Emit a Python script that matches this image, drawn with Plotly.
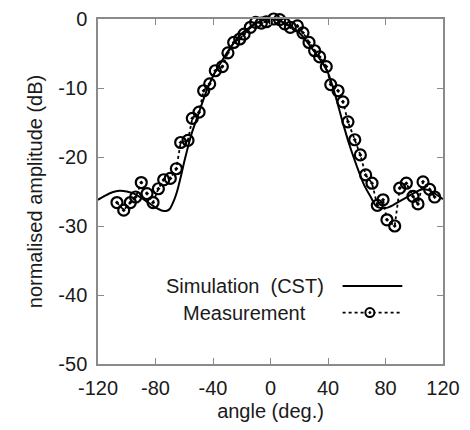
import plotly.graph_objects as go

# Simulation (CST) - smooth curve samples
sim_angle = [-120, -115, -110, -105, -100, -95, -90, -85, -80, -75, -72, -70, -67, -65, -62, -60,
             -55, -50, -45, -40, -35, -30, -25, -20, -15, -10, -5, 0, 5, 10, 15, 20, 25, 30, 35,
             40, 45, 50, 55, 60, 65, 70, 73, 75, 80, 85, 90, 95, 100, 105, 110, 115, 120]
sim_db = [-26.2, -25.6, -25.1, -24.9, -25.0, -25.3, -25.9, -26.6, -27.3, -27.8, -27.8, -27.5, -26.2,
          -25.0, -22.5, -20.7, -16.7, -13.7, -10.7, -8.3, -6.5, -4.8, -3.3, -2.1, -1.3, -0.6, -0.15,
          0.0, -0.15, -0.6, -1.2, -2.0, -3.2, -4.6, -6.0, -7.8, -11.0, -14.8, -18.3, -21.3, -24.0,
          -25.9, -27.0, -27.3, -27.4, -27.0, -26.4, -25.8, -25.2, -24.7, -24.8, -25.4, -26.1]

# Measurement points
meas_angle = [-106.8, -102.1, -97.5, -93.8, -89.9, -85.9, -81.7, -78.0, -74.3, -69.7, -65.5, -62.5,
              -57.4, -54.4, -49.7, -46.5, -42.3, -38.4, -33.5, -29.6, -25.6, -21.4, -18.4, -14.0,
              -10.3, -6.4, -2.9, 2.2, 6.4, 9.9, 13.8, 18.7, 22.6, 26.8, 30.7, 34.2, 38.8, 41.9,
              47.0, 50.4, 53.9, 58.6, 62.5, 66.2, 70.6, 74.3, 78.3, 81.0, 86.4, 89.9, 94.5, 99.1,
              102.6, 106.1, 110.7, 114.2]
meas_db = [-26.6, -27.7, -26.6, -25.8, -23.7, -25.3, -26.6, -24.6, -23.3, -23.1, -21.7, -17.9,
           -17.6, -14.4, -13.5, -10.4, -9.4, -7.5, -6.9, -4.9, -3.4, -2.9, -2.2, -1.2,
           -0.5, -0.6, -0.4, 0.0, -0.1, -0.7, -1.2, -1.0, -2.0, -3.4, -4.6, -5.5, -6.9, -9.5,
           -10.4, -12.0, -14.9, -17.5, -19.7, -22.6, -23.8, -27.0, -26.2, -29.1, -30.0, -24.5,
           -23.8, -25.7, -26.8, -23.6, -24.7, -25.8]

x_ticks = [-120, -80, -40, 0, 40, 80, 120]
y_ticks = [0, -10, -20, -30, -40, -50]
legend_labels = ["Simulation\u00a0 (CST)", "Measurement"]

FONT = "Liberation Sans, Arial, Helvetica, sans-serif"
AX = "#8a8a8a"

fig = go.Figure()
fig.add_trace(go.Scatter(x=sim_angle, y=sim_db, mode="lines",
                         line=dict(color="black", width=2, shape="spline", smoothing=0.8),
                         name=legend_labels[0], showlegend=False))
fig.add_trace(go.Scatter(x=meas_angle, y=meas_db, mode="lines+markers", cliponaxis=False,
                         line=dict(color="black", width=1.8, dash="dot"),
                         marker=dict(symbol="circle-open-dot", size=11, color="black",
                                     line=dict(width=2.2, color="black")),
                         name=legend_labels[1], showlegend=False))

# custom legend (text left of samples)
lx0, lx1, lxm = 0.709, 0.882, 0.788
ly = [0.226, 0.149]
for lab, yy in zip(legend_labels, ly):
    fig.add_annotation(x=0.426, y=yy, xref="paper", yref="paper", text=lab, showarrow=False,
                       xanchor="center", yanchor="middle",
                       font=dict(family=FONT, size=20, color="#1a1a1a"))
fig.add_shape(type="line", xref="paper", yref="paper", x0=lx0, x1=lx1, y0=ly[0], y1=ly[0],
              line=dict(color="black", width=2))
fig.add_shape(type="line", xref="paper", yref="paper", x0=lx0, x1=lx1, y0=ly[1], y1=ly[1],
              line=dict(color="black", width=1.8, dash="dot"))
fig.add_shape(type="circle", xref="paper", yref="paper", xsizemode="pixel", ysizemode="pixel",
              xanchor=lxm, yanchor=ly[1], x0=-4.5, x1=4.5, y0=-4.5, y1=4.5,
              line=dict(color="black", width=2), fillcolor="white")
fig.add_shape(type="circle", xref="paper", yref="paper", xsizemode="pixel", ysizemode="pixel",
              xanchor=lxm, yanchor=ly[1], x0=-1, x1=1, y0=-1, y1=1,
              line=dict(color="black", width=1), fillcolor="black")

axis_common = dict(showgrid=False, zeroline=False, showline=True, linecolor=AX, linewidth=1.5,
                   mirror="ticks", ticks="inside", ticklen=6, tickwidth=1.2, tickcolor=AX,
                   automargin=False,
                   tickfont=dict(family=FONT, size=20, color="#1a1a1a"))
fig.update_xaxes(range=[-120, 120], tickvals=x_ticks, ticktext=[str(v) for v in x_ticks],
                 title=dict(text="angle (deg.)", font=dict(family=FONT, size=20, color="#1a1a1a"),
                            standoff=6),
                 ticklabelstandoff=5, **axis_common)
fig.update_yaxes(range=[-50, 0], tickvals=y_ticks, ticktext=[str(v) for v in y_ticks],
                 title=dict(text="normalised amplitude (dB)",
                            font=dict(family=FONT, size=20, color="#1a1a1a"), standoff=10),
                 ticklabelstandoff=5, **axis_common)
fig.update_layout(width=470, height=430, margin=dict(l=98, r=27, t=19, b=66),
                  paper_bgcolor="white", plot_bgcolor="white", showlegend=False)
fig.write_html("out.html", config={"displayModeBar": False})

# remove default page margin so the figure sits at the window origin
with open("out.html", encoding="utf-8") as f:
    html = f.read()
html = html.replace("<body>", '<body style="margin:0;padding:0;overflow:hidden">', 1)
with open("out.html", "w", encoding="utf-8") as f:
    f.write(html)
